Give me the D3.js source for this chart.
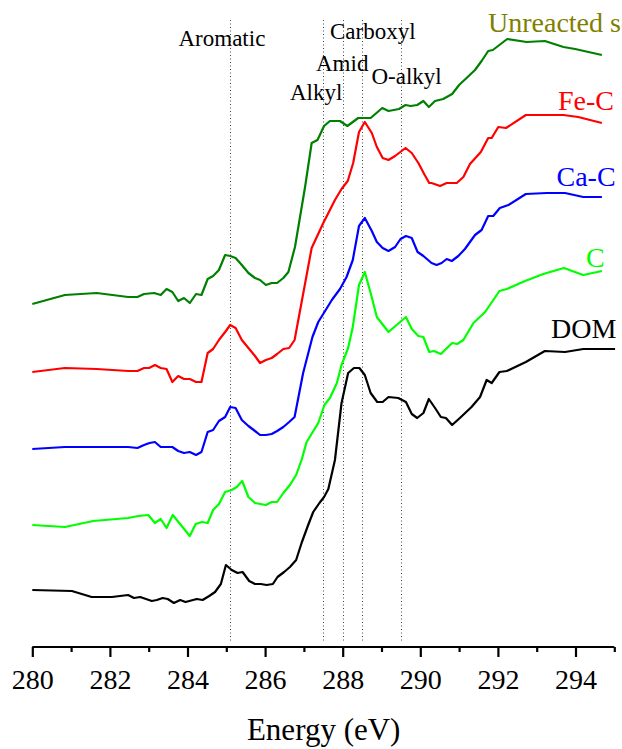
<!DOCTYPE html>
<html>
<head>
<meta charset="utf-8">
<script src="https://cdn.jsdelivr.net/npm/d3@7/dist/d3.min.js"></script>
<style>
html,body{margin:0;padding:0;background:#fff;overflow:hidden;}
svg{display:block;}
svg text{font-family:'Liberation Serif','Times New Roman',serif !important;}
</style>
</head>
<body>
<svg id="chart" width="622" height="749"></svg>
<script>
// ---- data (energy in eV, normalized intensity with stacking offsets) ----
const unreactedSoil = [[280.0,3.43],[280.84,3.52],[281.66,3.54],[282.47,3.50],[282.71,3.50],[282.88,3.53],[283.14,3.54],[283.31,3.52],[283.46,3.58],[283.61,3.55],[283.76,3.46],[283.91,3.49],[284.06,3.44],[284.22,3.53],[284.36,3.52],[284.52,3.68],[284.66,3.71],[284.81,3.77],[284.97,3.92],[285.10,3.91],[285.24,3.89],[285.40,3.82],[285.57,3.74],[285.74,3.69],[285.87,3.67],[286.02,3.62],[286.17,3.64],[286.31,3.64],[286.47,3.69],[286.60,3.75],[286.77,4.00],[287.03,4.60],[287.20,5.04],[287.35,5.07],[287.52,5.21],[287.67,5.26],[287.93,5.26],[288.12,5.21],[288.40,5.29],[288.72,5.29],[289.02,5.39],[289.18,5.36],[289.45,5.38],[289.62,5.42],[289.75,5.41],[289.92,5.42],[290.08,5.46],[290.22,5.40],[290.38,5.46],[290.59,5.48],[290.82,5.53],[291.00,5.62],[291.22,5.70],[291.41,5.77],[291.58,5.86],[291.75,5.96],[291.87,5.97],[292.24,6.08],[292.74,6.05],[293.21,6.06],[293.69,6.00],[293.99,5.98],[294.68,5.92]];
const feC = [[280.0,2.75],[280.84,2.79],[281.66,2.78],[282.47,2.76],[282.71,2.76],[282.88,2.79],[283.01,2.79],[283.16,2.82],[283.31,2.79],[283.46,2.78],[283.61,2.65],[283.76,2.71],[283.91,2.68],[284.06,2.68],[284.22,2.65],[284.36,2.65],[284.52,2.94],[284.66,2.98],[284.81,3.07],[284.97,3.15],[285.10,3.22],[285.24,3.19],[285.40,3.07],[285.57,2.99],[285.74,2.91],[285.87,2.84],[286.02,2.87],[286.17,2.89],[286.31,2.93],[286.47,2.98],[286.62,2.99],[286.76,3.07],[287.20,3.99],[287.50,4.24],[287.80,4.47],[287.97,4.58],[288.13,4.66],[288.27,4.84],[288.42,5.15],[288.57,5.25],[288.75,5.14],[288.88,5.00],[289.03,4.89],[289.18,4.87],[289.35,4.91],[289.62,4.99],[289.78,4.94],[289.95,4.84],[290.10,4.73],[290.23,4.64],[290.29,4.64],[290.51,4.61],[290.68,4.64],[290.94,4.64],[291.11,4.70],[291.28,4.83],[291.56,4.95],[291.75,5.09],[291.84,5.09],[292.01,5.20],[292.21,5.19],[292.72,5.32],[293.21,5.32],[293.69,5.32],[294.07,5.30],[294.68,5.24]];
const caC = [[280.0,1.98],[280.84,2.00],[281.66,2.00],[282.47,2.00],[282.71,1.99],[282.88,2.02],[283.02,2.04],[283.16,2.05],[283.31,2.00],[283.46,2.00],[283.61,2.00],[283.76,1.96],[283.91,1.94],[284.06,1.95],[284.22,1.92],[284.36,1.95],[284.52,2.15],[284.66,2.17],[284.81,2.26],[284.97,2.30],[285.10,2.40],[285.24,2.39],[285.40,2.27],[285.57,2.21],[285.74,2.16],[285.87,2.12],[286.02,2.12],[286.17,2.13],[286.31,2.16],[286.47,2.20],[286.62,2.25],[286.76,2.30],[286.98,2.74],[287.22,3.10],[287.37,3.25],[287.53,3.35],[287.72,3.47],[287.93,3.58],[288.10,3.70],[288.26,3.87],[288.42,4.21],[288.57,4.29],[288.75,4.16],[288.88,4.05],[289.03,3.99],[289.18,3.96],[289.35,4.00],[289.49,4.08],[289.63,4.11],[289.78,4.09],[289.93,3.95],[290.08,3.91],[290.29,3.84],[290.42,3.82],[290.55,3.84],[290.68,3.88],[290.81,3.86],[290.98,3.91],[291.15,3.98],[291.41,4.12],[291.58,4.17],[291.75,4.31],[291.88,4.31],[292.05,4.39],[292.27,4.42],[292.72,4.53],[293.26,4.54],[293.73,4.54],[294.20,4.50],[294.68,4.50]];
const cOnly = [[280.0,1.22],[280.84,1.20],[281.57,1.26],[282.47,1.29],[282.73,1.31],[282.99,1.32],[283.16,1.24],[283.31,1.28],[283.46,1.19],[283.62,1.32],[284.06,1.11],[284.21,1.23],[284.37,1.25],[284.52,1.24],[284.66,1.37],[284.81,1.43],[284.97,1.55],[285.14,1.57],[285.27,1.60],[285.41,1.66],[285.57,1.50],[285.74,1.44],[286.02,1.42],[286.17,1.45],[286.31,1.45],[286.47,1.54],[286.64,1.62],[286.80,1.72],[286.94,1.87],[287.07,2.05],[287.37,2.24],[287.53,2.42],[287.67,2.49],[287.85,2.64],[287.97,2.82],[288.14,2.99],[288.26,3.20],[288.42,3.62],[288.57,3.75],[288.72,3.54],[288.88,3.30],[289.18,3.15],[289.63,3.30],[289.78,3.18],[289.95,3.11],[290.08,3.10],[290.23,2.95],[290.35,2.96],[290.53,2.93],[290.82,3.04],[290.95,3.03],[291.11,3.07],[291.37,3.24],[291.67,3.35],[292.04,3.56],[292.23,3.58],[292.70,3.66],[293.17,3.73],[293.70,3.79],[294.20,3.72],[294.68,3.76]];
const dom = [[280.0,0.57],[281.02,0.56],[281.53,0.50],[282.05,0.50],[282.47,0.52],[282.62,0.49],[282.78,0.50],[283.08,0.46],[283.21,0.47],[283.36,0.49],[283.49,0.48],[283.65,0.44],[283.81,0.47],[283.95,0.45],[284.24,0.48],[284.39,0.47],[284.56,0.51],[284.71,0.55],[284.86,0.63],[284.99,0.82],[285.14,0.77],[285.29,0.74],[285.42,0.75],[285.59,0.66],[285.74,0.63],[285.89,0.63],[286.04,0.62],[286.20,0.63],[286.32,0.70],[286.49,0.75],[286.64,0.80],[286.80,0.87],[286.94,1.04],[287.11,1.22],[287.24,1.35],[287.40,1.44],[287.52,1.50],[287.63,1.58],[287.80,1.87],[287.97,2.44],[288.14,2.74],[288.29,2.79],[288.43,2.79],[288.57,2.72],[288.72,2.54],[288.89,2.45],[289.03,2.45],[289.18,2.50],[289.43,2.49],[289.63,2.45],[289.78,2.33],[289.92,2.29],[290.08,2.34],[290.22,2.48],[290.38,2.39],[290.53,2.30],[290.66,2.29],[290.82,2.22],[291.02,2.29],[291.32,2.40],[291.54,2.50],[291.71,2.67],[291.84,2.64],[292.04,2.75],[292.23,2.76],[292.72,2.85],[293.21,2.96],[293.73,2.95],[294.20,2.98],[295.02,2.98]];

const seriesNames = ["Unreacted soil","Fe-C","Ca-C","C","DOM"];
const seriesData = [unreactedSoil, feC, caC, cOnly, dom];
const seriesColors = ["#008000","#ff0000","#0000ff","#00ff00","#000000"];
const labelColors = ["#808000","#ff0000","#0000ff","#00ff00","#000000"];

const peakEnergies = [285.1, 287.5, 288.0, 288.5, 289.5];
const peakLabels = ["Aromatic","Alkyl","Amid","Carboxyl","O-alkyl"];

const majorTicks = [280,282,284,286,288,290,292,294];
const minorTicks = [281,283,285,287,289,291,293,295];
const xTitle = "Energy (eV)";

// ---- layout ----
const FONT = "'Liberation Serif','Times New Roman',serif";
const svg = d3.select("#chart");
const x = d3.scaleLinear().domain([280,295]).range([32.3,614.3]);
const y = d3.scaleLinear().domain([0,6.27]).range([647,20]);

// peak guide lines
svg.append("g").selectAll("line").data(peakEnergies).join("line")
  .attr("x1",d=>Math.round(x(d))+0.5).attr("x2",d=>Math.round(x(d))+0.5)
  .attr("y1",20).attr("y2",643)
  .attr("stroke","#444").attr("stroke-width",1).attr("stroke-dasharray","1,2.5");

// peak labels
const peakLabelPos = [[178.5,46],[290,100],[316,71],[330,39],[371.5,84]];
svg.append("g").selectAll("text").data(peakLabels).join("text")
  .attr("x",(d,i)=>peakLabelPos[i][0]).attr("y",(d,i)=>peakLabelPos[i][1])
  .style("font-family",FONT).style("font-size","23px").attr("fill","#000").text(d=>d);

// curves
const line = d3.line().x(d=>x(d[0])).y(d=>y(d[1]));
svg.append("g").selectAll("path").data(seriesData).join("path")
  .attr("d",line).attr("fill","none")
  .attr("stroke",(d,i)=>seriesColors[i]).attr("stroke-width",2.2)
  .attr("stroke-linejoin","round");

// series labels
const seriesLabelPos = [[488,32],[558,110],[556.5,186],[586,267],[551,338]];
svg.append("g").selectAll("text").data(seriesNames).join("text")
  .attr("x",(d,i)=>seriesLabelPos[i][0]).attr("y",(d,i)=>seriesLabelPos[i][1])
  .style("font-family",FONT).style("font-size","28px").attr("fill",(d,i)=>labelColors[i]).text(d=>d);

// x axis
const axisG = svg.append("g").attr("transform","translate(0,647)");
axisG.call(d3.axisBottom(x).tickValues(majorTicks).tickSize(10).tickFormat(d3.format("d")));
axisG.append("g").call(d3.axisBottom(x).tickValues(minorTicks).tickSize(5).tickFormat(""))
  .select(".domain").remove();
axisG.attr("font-family",null).attr("font-size",null);
axisG.selectAll(".domain").attr("d",`M${x(280)},0H${x(295)}`).attr("stroke-width",2.2).attr("stroke","#000");
axisG.selectAll(".tick line").attr("stroke-width",2.2).attr("stroke","#000");
axisG.selectAll(".tick text").style("font-family",FONT).style("font-size","28px")
  .attr("fill","#000").attr("y",null).attr("dy",null).attr("transform","translate(0,42)");

svg.append("text").attr("x",323.7).attr("y",740).attr("text-anchor","middle")
  .style("font-family",FONT).style("font-size","31px").attr("fill","#000").text(xTitle);
</script>
</body>
</html>
